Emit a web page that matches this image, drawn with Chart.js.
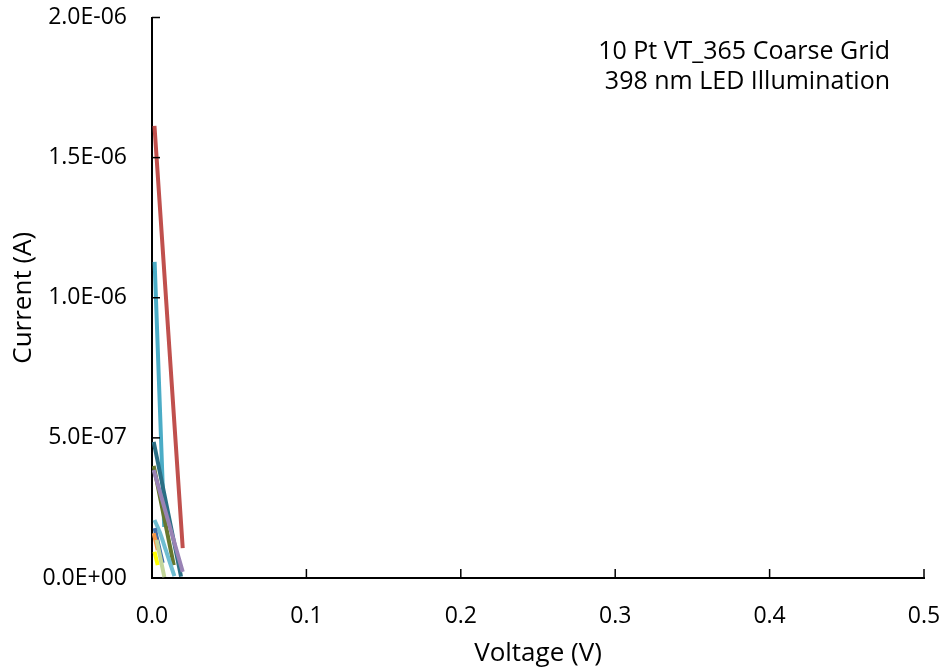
<!DOCTYPE html>
<html>
<head>
  <meta charset="utf-8" />
  <title>10 Pt VT_365 Coarse Grid</title>
  <script src="https://cdn.jsdelivr.net/npm/chart.js"></script>
  <style>
    body { margin: 0; background: #fff; }
    #wrap { width: 945px; height: 671px; }
  </style>
</head>
<body>
<div id="wrap"><canvas id="chart" width="945" height="671"></canvas></div>
<script>
  // readings: voltage (V) and current (A)
  const seriesNames = ['Pt 1', 'Pt 2', 'Pt 3', 'Pt 4', 'Pt 5', 'Pt 6', 'Pt 7', 'Pt 8', 'Pt 9', 'Pt 10'];
  const seriesColors = ['#C0504D', '#4BACC6', '#2B6F85', '#66772E', '#9983B5', '#6FBDD1', '#3E6CA8', '#F79646', '#FFFF00', '#C3D69B'];

  const volt1 = [0.0016, 0.0199];  const amp1 = [1.613e-6, 1.07e-7];
  const volt2 = [0.0017, 0.0079];  const amp2 = [1.128e-6, 1.82e-7];
  const volt3 = [0.0011, 0.0188];  const amp3 = [4.86e-7, 5e-9];
  const volt4 = [0.0011, 0.0141];  const amp4 = [4.0e-7, 4.6e-8];
  const volt5 = [0.0011, 0.0199];  const amp5 = [3.85e-7, 2.2e-8];
  const volt6 = [0.0016, 0.0050, 0.0089, 0.0145];  const amp6 = [2.07e-7, 1.64e-7, 1.0e-7, 7e-9];
  const volt7 = [0.0017, 0.0069];  const amp7 = [1.78e-7, 5.4e-8];
  const volt8 = [0.0011, 0.0037];  const amp8 = [1.6e-7, 1.0e-7];
  const volt9 = [0.0016, 0.0037];  const amp9 = [9.4e-8, 4.6e-8];
  const volt10 = [0.0030, 0.0080]; const amp10 = [1.36e-7, 3e-9];

  const xTicks = [0, 0.1, 0.2, 0.3, 0.4, 0.5];
  const yTicks = [0, 5e-7, 1e-6, 1.5e-6, 2e-6];
  const noteLines = ['10 Pt VT_365 Coarse Grid', '398 nm LED Illumination'];

  const volts = [volt1, volt2, volt3, volt4, volt5, volt6, volt7, volt8, volt9, volt10];
  const amps = [amp1, amp2, amp3, amp4, amp5, amp6, amp7, amp8, amp9, amp10];

  const fontFam = '"Open Sans", "Noto Sans", sans-serif';

  // draw order: small ones first, big ones on top
  const order = [9, 8, 7, 6, 5, 4, 3, 2, 1, 0];
  const datasets = order.map(i => ({
    label: seriesNames[i],
    data: volts[i].map((v, k) => ({ x: v, y: amps[i][k] })),
    borderColor: seriesColors[i],
    borderWidth: 4,
    pointRadius: 0,
    tension: 0.3,
    fill: false
  }));

  // inward tick marks and the note in the top right corner
  const extras = {
    id: 'extras',
    afterDraw(chart) {
      const c = chart.ctx;
      const xs = chart.scales.x, ys = chart.scales.y;
      const a = chart.chartArea;
      c.save();
      c.strokeStyle = '#000';
      c.lineWidth = 1.5;
      xTicks.forEach(t => {
        const px = xs.getPixelForValue(t);
        c.beginPath(); c.moveTo(px, a.bottom); c.lineTo(px, a.bottom - 9); c.stroke();
      });
      yTicks.forEach(t => {
        const py = ys.getPixelForValue(t);
        c.beginPath(); c.moveTo(a.left, py); c.lineTo(a.left + 8, py); c.stroke();
      });
      c.fillStyle = '#000';
      c.font = '25px ' + fontFam;
      c.textAlign = 'right';
      c.textBaseline = 'alphabetic';
      c.fillText(noteLines[0], a.right - 34, 59);
      c.fillText(noteLines[1], a.right - 34, 89);
      c.restore();
    }
  };

  // keep label overhang from shrinking the plot area
  const noPad = s => { s.paddingTop = 0; s.paddingBottom = 0; s.paddingLeft = 0; s.paddingRight = 0; };

  new Chart(document.getElementById('chart'), {
    type: 'line',
    data: { datasets: datasets },
    plugins: [extras],
    options: {
      responsive: false,
      animation: false,
      layout: { padding: { top: 17.5, right: 21, left: 0, bottom: 0 } },
      plugins: { legend: { display: false }, tooltip: { enabled: false } },
      scales: {
        x: {
          type: 'linear',
          min: 0, max: 0.5,
          afterBuildTicks: s => { s.ticks = xTicks.map(v => ({ value: v })); },
          afterFit: s => { s.height = 93; noPad(s); },
          grid: { drawOnChartArea: false, drawTicks: false },
          border: { color: '#000', width: 2 },
          ticks: {
            padding: 25,
            color: '#000',
            font: { size: 23, family: fontFam },
            callback: v => v.toFixed(1)
          },
          title: {
            display: true, text: 'Voltage (V)', color: '#000',
            font: { size: 26, family: fontFam }, padding: { top: 0, bottom: 2 }
          }
        },
        y: {
          type: 'linear',
          min: 0, max: 2e-6,
          afterBuildTicks: s => { s.ticks = yTicks.map(v => ({ value: v })); },
          afterFit: s => { s.width = 152; noPad(s); },
          grid: { drawOnChartArea: false, drawTicks: false },
          border: { color: '#000', width: 2 },
          ticks: {
            padding: 25,
            color: '#000',
            font: { size: 23, family: fontFam },
            callback: v => {
              const s = Number(v).toExponential(1).toUpperCase();
              const m = s.match(/^(.*)E([+-])(\d+)$/);
              return m[1] + 'E' + m[2] + m[3].padStart(2, '0');
            }
          },
          title: {
            display: true, text: 'Current (A)', color: '#000',
            font: { size: 26, family: fontFam }, padding: { top: 8, bottom: 0 }
          }
        }
      }
    }
  });
</script>
</body>
</html>
